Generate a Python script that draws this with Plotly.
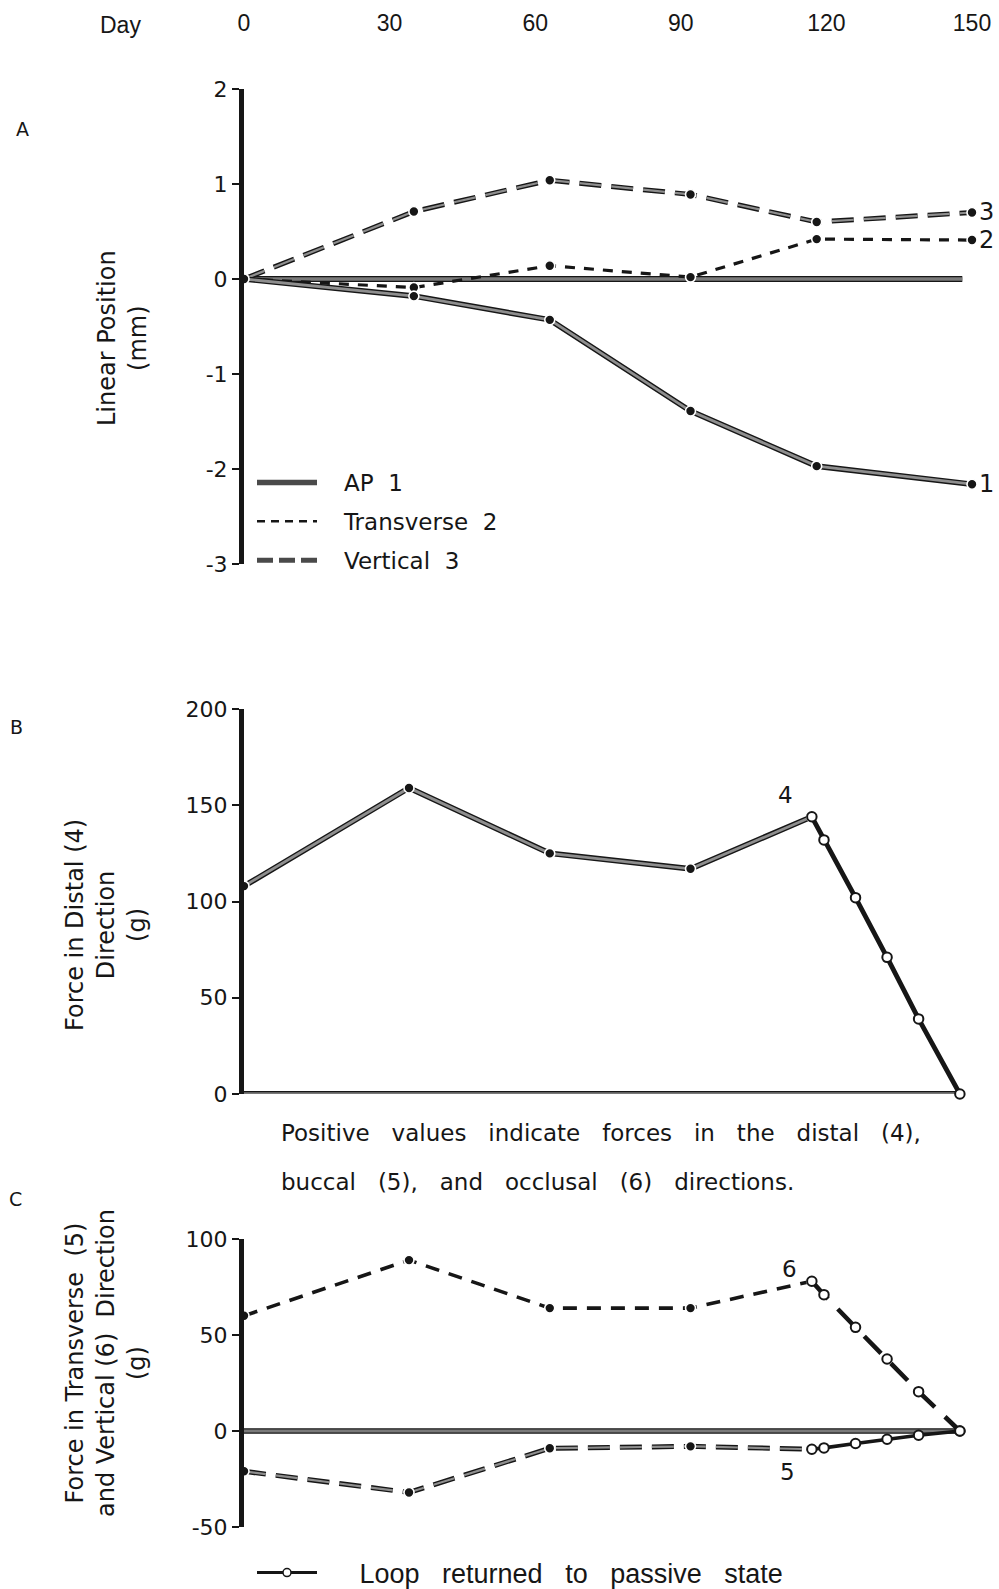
import plotly.graph_objects as go

W, H = 999, 1589

# ---------------- data ----------------
day_ticks = [0, 30, 60, 90, 120, 150]
day_ticktext = ["0", "30", "60", "90", "120", "150"]

# Panel A: linear position (mm)
days_A = [0, 35, 63, 92, 118, 150]
ap_1 = [0, -0.18, -0.43, -1.39, -1.97, -2.16]
transverse_2 = [0, -0.09, 0.14, 0.02, 0.42, 0.41]
vertical_3 = [0, 0.71, 1.04, 0.89, 0.60, 0.70]

ref_days = [0, 148]
ref_zero = [0, 0]

A_ticks = [2, 1, 0, -1, -2, -3]
A_ticktext = ["2", "1", "0", "-1", "-2", "-3"]

# Panel B: force in distal (4) direction (g)
days_F = [0, 34, 63, 92, 117]
distal_4 = [108, 159, 125, 117, 144]
days_P = [117, 119.5, 126, 132.5, 139, 147.5]
distal_4_passive = [144, 132, 102, 71, 39, 0]
B_ticks = [0, 50, 100, 150, 200]
B_ticktext = ["0", "50", "100", "150", "200"]

# Panel C: force in transverse (5) and vertical (6) direction (g)
vertical_6 = [60, 89, 64, 64, 78]
vertical_6_passive = [78, 71, 54, 37.5, 20.5, 0]
transverse_5 = [-21, -32, -9, -8, -9.5]
transverse_5_passive = [-9.5, -8.8, -6.5, -4.3, -2.2, 0]
C_ticks = [-50, 0, 50, 100]
C_ticktext = ["-50", "0", "50", "100"]

# ---------------- styling helpers ----------------
FONT = "DejaVu Sans, Verdana, sans-serif"
NARROW = "Liberation Sans, Arial, sans-serif"
BLACK = "#161616"
CORE = "#8e8e8e"
REFCORE = "#7a7a7a"

X0 = 244
px_per_day = (972 - X0) / 150.0
x_range = [0, (W - X0) / px_per_day]
x_dom = [X0 / W, 1.0]


def pdom(top_px, bottom_px):
    return [1 - bottom_px / H, 1 - top_px / H]


fig = go.Figure()


def double_line(x, y, xa, ya, dash="solid", outer=5, inner=2.2, markers=True, core=CORE):
    fig.add_trace(go.Scatter(
        x=x, y=y, xaxis=xa, yaxis=ya, mode="lines", showlegend=False,
        line=dict(color=BLACK, width=outer, dash=dash), cliponaxis=False,
        hoverinfo="skip"))
    fig.add_trace(go.Scatter(
        x=x, y=y, xaxis=xa, yaxis=ya,
        mode="lines+markers" if markers else "lines", showlegend=False,
        line=dict(color=core, width=inner, dash=dash), cliponaxis=False,
        marker=dict(size=10, color=BLACK, line=dict(color="white", width=1.6)),
        hoverinfo="skip"))


def single_line(x, y, xa, ya, dash="solid", width=3, color=BLACK, marker=None):
    fig.add_trace(go.Scatter(
        x=x, y=y, xaxis=xa, yaxis=ya,
        mode="lines+markers" if marker else "lines", showlegend=False,
        line=dict(color=color, width=width, dash=dash), cliponaxis=False,
        marker=marker, hoverinfo="skip"))


filled = dict(size=10, color=BLACK, line=dict(color="white", width=1.6))
opened = dict(size=9.5, color="white", line=dict(color=BLACK, width=2))

LONG = "22px,10px"
SHORT = "10px,9px"

# ---- Panel A ----
double_line(ref_days, ref_zero, "x", "y", outer=6, inner=3.4, markers=False, core=REFCORE)
single_line(days_A, transverse_2, "x", "y", dash=SHORT, width=3.2, marker=filled)
double_line(days_A, vertical_3, "x", "y", dash=LONG, outer=5, inner=2.2)
double_line(days_A, ap_1, "x", "y", outer=5.6, inner=2.8)

# ---- Panel B ----
double_line(ref_days, ref_zero, "x2", "y2", outer=6, inner=3.4, markers=False, core=REFCORE)
double_line(days_F, distal_4, "x2", "y2", outer=5.6, inner=2.8)
single_line(days_P, distal_4_passive, "x2", "y2", width=4.8, marker=opened)

# ---- Panel C ----
double_line(ref_days, ref_zero, "x3", "y3", outer=5.6, inner=3.2, markers=False, core=REFCORE)
single_line(days_F, vertical_6, "x3", "y3", dash="14px,10px", width=3.6, marker=filled)
single_line(days_P, vertical_6_passive, "x3", "y3", dash="24px,14px", width=4.6, marker=opened)
double_line(days_F, transverse_5, "x3", "y3", dash=LONG, outer=5, inner=2.2)
single_line(days_P, transverse_5_passive, "x3", "y3", width=3.6, marker=opened)

# ---- legend entries (no coordinates) ----
NB = "\u00a0"
fig.add_trace(go.Scatter(x=[None], y=[None], mode="lines", name=NB * 3 + "AP" + NB * 2 + "1",
                         line=dict(color="#4a4a4a", width=5.5), legend="legend",
                         legendgroup="a"))
fig.add_trace(go.Scatter(x=[None], y=[None], mode="lines", name=NB * 3 + "Transverse" + NB * 2 + "2",
                         line=dict(color=BLACK, width=2.5, dash="8px,6px"), legend="legend",
                         legendgroup="b"))
fig.add_trace(go.Scatter(x=[None], y=[None], mode="lines", name=NB * 3 + "Vertical" + NB * 2 + "3",
                         line=dict(color="#4a4a4a", width=5, dash="16px,6px"), legend="legend",
                         legendgroup="c"))
gap3 = NB * 3
fig.add_trace(go.Scatter(x=[None], y=[None], mode="lines+markers",
                         name=NB * 5 + "Loop" + gap3 + "returned" + gap3 + "to" + gap3 + "passive" + gap3 + "state",
                         line=dict(color=BLACK, width=3),
                         marker=dict(size=8, color="white", line=dict(color=BLACK, width=1.5)),
                         legend="legend2"))

# ---------------- axes ----------------
yaxis_common = dict(
    showline=True, linewidth=5, linecolor=BLACK, ticks="outside", ticklen=7,
    tickwidth=2, tickcolor=BLACK, showgrid=False, zeroline=False, automargin=False,
    tickfont=dict(family=FONT, size=22, color=BLACK), fixedrange=True,
)
xaxis_hidden = dict(domain=x_dom, range=x_range, showline=False, ticks="",
                    showticklabels=False, showgrid=False, zeroline=False, automargin=False)

fig.update_layout(
    width=W, height=H, autosize=False,
    margin=dict(l=0, r=0, t=0, b=0, autoexpand=False),
    paper_bgcolor="white", plot_bgcolor="white",
    font=dict(family=FONT, color=BLACK),
    xaxis=dict(domain=x_dom, range=x_range, anchor="y", side="top",
               tickvals=day_ticks, ticktext=day_ticktext, ticks="",
               showline=False, showgrid=False, zeroline=False, automargin=False,
               ticklabelstandoff=52,
               tickfont=dict(family=NARROW, size=23, color=BLACK)),
    yaxis=dict(domain=pdom(89, 564), range=[-3, 2], anchor="x",
               tickvals=A_ticks, ticktext=A_ticktext, **yaxis_common),
    xaxis2=dict(anchor="y2", **xaxis_hidden),
    yaxis2=dict(domain=pdom(709, 1094), range=[0, 200], anchor="x2",
                tickvals=B_ticks, ticktext=B_ticktext, **yaxis_common),
    xaxis3=dict(anchor="y3", **xaxis_hidden),
    yaxis3=dict(domain=pdom(1239, 1527), range=[-50, 100], anchor="x3",
                tickvals=C_ticks, ticktext=C_ticktext, **yaxis_common),
    legend=dict(x=252 / W, xanchor="left", y=1 - 461 / H, yanchor="top",
                font=dict(family=FONT, size=23, color=BLACK),
                bgcolor="rgba(0,0,0,0)", tracegroupgap=6,
                itemwidth=60),
    legend2=dict(x=252 / W, xanchor="left", y=1 - 1573 / H, yanchor="middle",
                 font=dict(family=NARROW, size=27, color=BLACK),
                 bgcolor="rgba(0,0,0,0)", itemwidth=60),
    showlegend=True,
)


def ann(text, x, y, size=22, family=FONT, angle=0, xanchor="center", yanchor="middle",
        align="center", xref="paper", yref="paper", xshift=0, yshift=0):
    if xref == "paper":
        x = x / W
    if yref == "paper":
        y = 1 - y / H
    fig.add_annotation(text=text, x=x, y=y, xref=xref, yref=yref, showarrow=False,
                       textangle=angle, xanchor=xanchor, yanchor=yanchor, align=align,
                       font=dict(family=family, size=size, color=BLACK),
                       xshift=xshift, yshift=yshift)


ann("Day", 120, 25, size=23, family=NARROW)
ann("A", 22, 129, size=19)
ann("B", 16, 727, size=19)
ann("C", 15, 1199, size=19)

ann("Linear Position<br>(mm)", 122, 338, size=24, angle=-90)
ann("Force in Distal (4)<br>Direction<br>(g)", 106, 925, size=24, angle=-90)
ann("Force in Transverse" + NB * 2 + "(5)<br>and Vertical (6)" + NB * 2 + "Direction<br>(g)",
    106, 1363, size=24, angle=-90)

# end-of-line labels
ann("1", days_A[-1], ap_1[-1], size=24, xref="x", yref="y", xanchor="left", xshift=5)
ann("2", days_A[-1], transverse_2[-1], size=24, xref="x", yref="y", xanchor="left", xshift=5)
ann("3", days_A[-1], vertical_3[-1], size=24, xref="x", yref="y", xanchor="left", xshift=5)
ann("4", days_F[-1], distal_4[-1], size=23, xref="x2", yref="y2", xshift=-26, yshift=22)
ann("6", days_F[-1], vertical_6[-1], size=23, xref="x3", yref="y3", xshift=-22, yshift=12)
ann("5", days_F[-1], transverse_5[-1], size=23, xref="x3", yref="y3", xshift=-24, yshift=-23)

sp = NB * 3
ann("Positive" + sp + "values" + sp + "indicate" + sp + "forces" + sp + "in" + sp + "the" + sp
    + "distal" + sp + "(4),", 279, 1133, size=23, xanchor="left")
ann("buccal" + sp + "(5)," + sp + "and" + sp + "occlusal" + sp + "(6)" + sp + "directions.",
    279, 1182, size=23, xanchor="left")

fig.write_html("out.html")
